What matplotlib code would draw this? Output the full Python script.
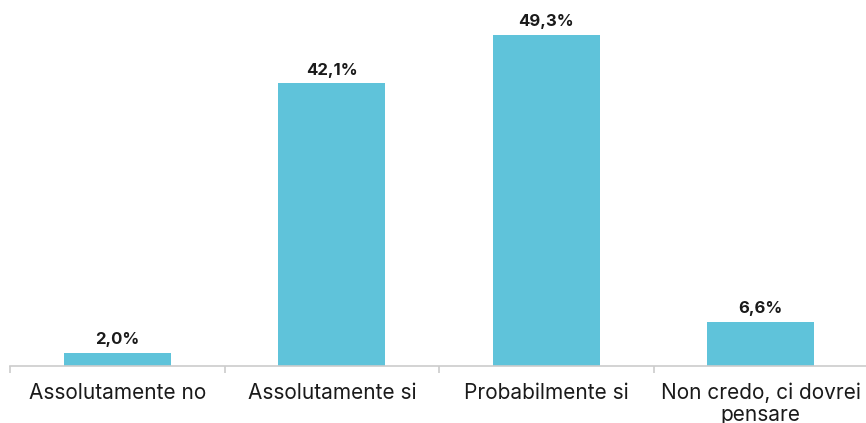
import numpy as np
import matplotlib.pyplot as plt

categorie = ["Assolutamente no", "Assolutamente si", "Probabilmente si", "Non credo, ci dovrei\npensare"]
valori = [2.0, 42.1, 49.3, 6.6]
etichette = ["2,0%", "42,1%", "49,3%", "6,6%"]

if __name__ == "__main__":
    plt.rcParams['font.family'] = ['Inter', 'DejaVu Sans']

    fig = plt.figure(figsize=(8.66, 4.23), dpi=100)
    ax = fig.add_axes([10 / 866, 57 / 423, 858 / 866, 366 / 423])

    x = np.arange(len(categorie))
    barre = ax.bar(x, valori, width=0.5, color='#5fc3da')
    for b, t in zip(barre, etichette):
        ax.annotate(t, (b.get_x() + b.get_width() / 2, b.get_height()),
                    xytext=(0, 4), textcoords='offset points',
                    ha='center', va='bottom', fontsize=12, fontweight='bold', color='#1a1a1a')

    ax.set_xlim(-0.5, 3.5)
    ax.set_ylim(0, 54.5)
    ax.set_yticks([])
    ax.set_xticks(x)
    ax.set_xticklabels(categorie, fontsize=15, color='#1a1a1a', linespacing=1.1)
    ax.tick_params(axis='x', which='major', length=0, pad=12)
    ax.set_xticks(np.arange(-0.5, 3.6, 1.0), minor=True)
    ax.tick_params(axis='x', which='minor', length=5, width=1.2, color='#cccccc')

    for lato in ['top', 'right', 'left']:
        ax.spines[lato].set_visible(False)
    ax.spines['bottom'].set_color('#cccccc')
    ax.spines['bottom'].set_linewidth(1.2)

    fig.savefig('out.png', dpi=100)
